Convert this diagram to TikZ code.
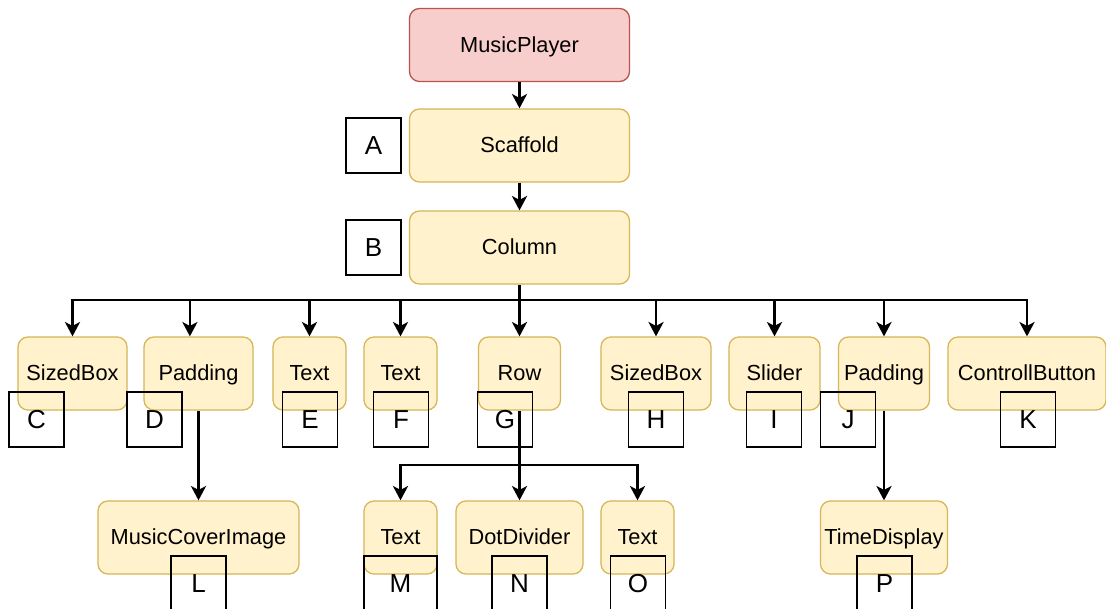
\documentclass[tikz,border=0pt]{standalone}
\usepackage{fontspec}
\setsansfont{Liberation Sans}
\usetikzlibrary{arrows.meta,positioning}

\definecolor{ylwfill}{HTML}{FFF2CC}
\definecolor{ylwline}{HTML}{D6B656}
\definecolor{redfill}{HTML}{F8CECC}
\definecolor{redline}{HTML}{B85450}

\begin{document}
\begin{tikzpicture}[
  x=0.025cm, y=-0.025cm,
  font=\sffamily\fontsize{15.5}{18}\selectfont,
  widget/.style={draw=ylwline, line width=0.9pt, rounded corners=0.25cm, fill=ylwfill,
                 minimum height=1.825cm, inner sep=0pt, text height=11pt, text depth=1pt},
  root/.style={widget, draw=redline, fill=redfill},
  tag/.style={draw=black, line width=1.3pt, minimum size=1.375cm, inner sep=0pt,
              font=\sffamily\fontsize{18.5}{20}\selectfont, text height=13pt, text depth=0.5pt},
  edge/.style={draw=black, line width=1.5pt, -{Stealth[length=0.36cm, width=0.38cm, inset=0.1cm]}}
]
\useasboundingbox (0,0) rectangle (1106,609);

% widget tree
\node[root, minimum width=5.5cm] (player) at (519.5,45) {MusicPlayer};
\node[widget, minimum width=5.5cm] (scaffold) at (519.5,145.5) {Scaffold};
\node[widget, minimum width=5.5cm] (column) at (519.5,247.5) {Column};

\node[widget, minimum width=2.725cm] (sizedA) at (72.5,373.5) {SizedBox};
\node[widget, minimum width=2.725cm] (padA) at (198.5,373.5) {Padding};
\node[widget, minimum width=1.825cm] (textA) at (309.5,373.5) {Text};
\node[widget, minimum width=1.825cm] (textB) at (400.5,373.5) {Text};
\node[widget, minimum width=2.05cm] (row) at (519.5,373.5) {Row};
\node[widget, minimum width=2.75cm] (sizedB) at (656,373.5) {SizedBox};
\node[widget, minimum width=2.275cm] (slider) at (774.5,373.5) {Slider};
\node[widget, minimum width=2.275cm] (padB) at (884,373.5) {Padding};
\node[widget, minimum width=3.95cm] (button) at (1027,373.5) {ControllButton};

\node[widget, minimum width=5.025cm] (cover) at (198.5,537.5) {MusicCoverImage};
\node[widget, minimum width=1.825cm] (textC) at (400.5,537.5) {Text};
\node[widget, minimum width=3.175cm] (dotdiv) at (519.5,537.5) {DotDivider};
\node[widget, minimum width=1.825cm] (textD) at (637.5,537.5) {Text};
\node[widget, minimum width=3.175cm] (timedisp) at (884,537.5) {TimeDisplay};

% connectors
\coordinate (bus) at (519.5,300);
\coordinate (rowbus) at (519.5,465);
\draw[edge] (player) -- (scaffold);
\draw[edge] (scaffold) -- (column);
\draw[edge] (column.south) -- (row.north);
\draw[edge] (bus) -| (sizedA.north);
\draw[edge] (bus) -| ([xshift=-0.215cm]padA.north);
\draw[edge] (bus) -| (textA.north);
\draw[edge] (bus) -| (textB.north);
\draw[edge] (bus) -| (sizedB.north);
\draw[edge] (bus) -| (slider.north);
\draw[edge] (bus) -| (padB.north);
\draw[edge] (bus) -| (button.north);
\draw[edge] (padA.south) -- (cover.north);
\draw[edge] (row.south) -- (dotdiv.north);
\draw[edge] (rowbus) -| (textC.north);
\draw[edge] (rowbus) -| (textD.north);
\draw[edge] (padB.south) -- (timedisp.north);

% letter tags
\node[tag] (tagA) at (373.5,145.5) {A};
\node[tag] (tagB) at (373.5,247.5) {B};
\node[tag] (tagC) at (36.5,419.5) {C};
\node[tag] (tagD) at (154.5,419.5) {D};
\node[tag] (tagE) at (310,419.5) {E};
\node[tag] (tagF) at (401,419.5) {F};
\node[tag] (tagG) at (505,419.5) {G};
\node[tag] (tagH) at (656,419.5) {H};
\node[tag] (tagI) at (774,419.5) {I};
\node[tag] (tagJ) at (848,419.5) {J};
\node[tag] (tagK) at (1028,419.5) {K};
\node[tag] (tagL) at (198.5,583.5) {L};
\node[tag, minimum width=1.825cm] (tagM) at (400.5,583.5) {M};
\node[tag] (tagN) at (519.5,583.5) {N};
\node[tag] (tagO) at (638,583.5) {O};
\node[tag] (tagP) at (884.5,583.5) {P};
\end{tikzpicture}
\end{document}
